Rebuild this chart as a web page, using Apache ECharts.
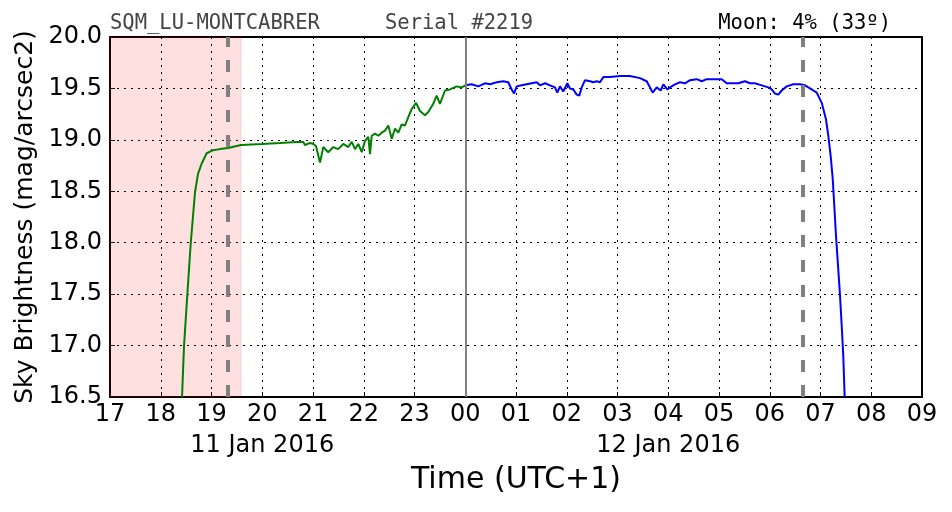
<!DOCTYPE html>
<html><head><meta charset="utf-8">
<script src="https://cdn.jsdelivr.net/npm/echarts@6/dist/echarts.min.js"></script>
<style>html,body{margin:0;padding:0;background:#fff}#c{width:952px;height:512px}</style>
</head><body><div id="c"></div>
<script>
// hours since 11 Jan 2016 17:00 (UTC+1)
const greenT = [1.419,1.458,1.523,1.590,1.675,1.734,1.807,1.905,2.030,2.167,2.325,2.581,2.995,3.350,3.679,3.809,3.842,3.941,4.006,4.059,4.138,4.203,4.301,4.400,4.498,4.597,4.696,4.763,4.828,4.893,4.960,5.025,5.090,5.123,5.157,5.222,5.287,5.354,5.419,5.484,5.551,5.616,5.681,5.748,5.813,5.878,5.945,6.030,6.108,6.207,6.272,6.370,6.437,6.502,6.601,6.700,6.832,6.930,7.000];
const greenV = [16.50,16.99,17.49,17.99,18.49,18.67,18.77,18.87,18.90,18.91,18.92,18.95,18.96,18.97,18.98,18.98,18.95,18.97,18.96,18.94,18.78,18.93,18.88,18.93,18.91,18.96,18.93,18.98,18.91,18.96,18.88,18.99,19.03,18.86,19.04,19.06,19.04,19.07,19.09,19.14,19.01,19.11,19.07,19.15,19.14,19.22,19.30,19.36,19.28,19.24,19.27,19.35,19.43,19.35,19.48,19.49,19.52,19.51,19.53];
const blueT = [7.000,7.127,7.257,7.389,7.488,7.620,7.750,7.848,7.915,7.961,8.014,8.112,8.211,8.309,8.408,8.473,8.571,8.670,8.768,8.814,8.867,8.932,9.011,9.064,9.129,9.196,9.247,9.295,9.360,9.458,9.523,9.590,9.655,9.720,9.852,10.049,10.246,10.443,10.575,10.640,10.694,10.772,10.851,10.903,10.981,11.034,11.133,11.232,11.330,11.429,11.561,11.660,11.758,11.955,12.054,12.152,12.282,12.380,12.512,12.611,12.709,12.841,12.971,13.038,13.103,13.168,13.236,13.334,13.464,13.596,13.695,13.793,13.925,14.024,14.108,14.154,14.201,14.241,14.272,14.305,14.345,14.384,14.418,14.449,14.476];
const blueV = [19.53,19.54,19.52,19.55,19.54,19.56,19.57,19.56,19.49,19.45,19.52,19.53,19.54,19.55,19.56,19.53,19.55,19.53,19.51,19.46,19.52,19.47,19.55,19.50,19.49,19.44,19.43,19.51,19.58,19.57,19.56,19.57,19.56,19.61,19.61,19.62,19.62,19.60,19.57,19.51,19.46,19.51,19.48,19.54,19.49,19.51,19.54,19.56,19.55,19.58,19.59,19.57,19.59,19.59,19.59,19.55,19.55,19.55,19.57,19.55,19.55,19.53,19.51,19.49,19.45,19.44,19.48,19.52,19.54,19.54,19.53,19.50,19.46,19.36,19.20,19.04,18.84,18.62,18.36,18.07,17.78,17.49,17.19,16.90,16.50];
const startHour = 17;
const dateLabels = {3: '11 Jan 2016', 11: '12 Jan 2016'};
const twilightLines = [2.32, 13.65];   // dashed markers
const midnight = 7;
const nightBand = [0, 2.58];
const titleLeft = 'SQM_LU-MONTCABRER';
const titleMid = 'Serial #2219';
const titleRight = 'Moon: 4% (33º)';

const zip = (a,b) => a.map((t,i)=>[t,b[i]]);
const chart = echarts.init(document.getElementById('c'));
const font = 'DejaVu Sans';
const mono = 'DejaVu Sans Mono';
const hourFmt = v => String((startHour + Math.round(v)) % 24).padStart(2,'0');
const tStyle = c => ({fontFamily:mono,fontSize:20.5,fontWeight:'normal',color:c});
chart.setOption({
  animation:false,
  textStyle:{fontFamily:font},
  title:[
    {text:titleLeft,left:105,top:8,textStyle:tStyle('#444')},
    {text:titleMid,left:380,top:8,textStyle:tStyle('#444')},
    {text:titleRight,right:56,top:8,textStyle:tStyle('#000')}
  ],
  grid:{left:110,right:30,top:37,bottom:115,show:true,borderColor:'#000',borderWidth:2,backgroundColor:'transparent'},
  xAxis:[{
    type:'value',min:0,max:16,interval:1,
    name:'Time (UTC+1)',nameLocation:'middle',nameGap:68,
    nameTextStyle:{fontSize:30,color:'#000',fontFamily:font},
    axisLine:{show:false},
    axisTick:{show:true,inside:true,length:5,lineStyle:{color:'#000'}},
    axisLabel:{formatter:hourFmt,fontSize:24,color:'#000',margin:6,fontFamily:font},
    splitLine:{show:true,lineStyle:{color:'#000',type:[2,5],width:1}}
  },{
    type:'value',min:0,max:16,interval:1,position:'bottom',offset:31,
    axisLine:{show:false},axisTick:{show:false},splitLine:{show:false},
    axisLabel:{formatter:v=>dateLabels[Math.round(v)]||'',fontSize:24,color:'#000',margin:6,fontFamily:font,showMinLabel:true,showMaxLabel:true}
  }],
  yAxis:{
    type:'value',min:16.5,max:20,interval:0.5,
    name:'Sky Brightness (mag/arcsec2)',nameLocation:'middle',nameGap:72,
    nameTextStyle:{fontSize:25,color:'#000',fontFamily:font},
    axisLine:{show:false},
    axisTick:{show:true,inside:true,length:5,lineStyle:{color:'#000'}},
    axisLabel:{formatter:v=>v.toFixed(1),fontSize:24,color:'#000',margin:8,fontFamily:font},
    splitLine:{show:true,lineStyle:{color:'#000',type:[2,5],width:1}}
  },
  series:[
    {type:'line',data:zip(greenT,greenV),showSymbol:false,lineStyle:{color:'#008000',width:2},clip:true,z:3,
     markArea:{silent:true,itemStyle:{color:'rgba(255,0,0,0.12)',borderColor:'rgba(255,0,0,0.15)',borderWidth:1},data:[[{xAxis:nightBand[0]},{xAxis:nightBand[1]}]]},
     markLine:{silent:true,symbol:'none',label:{show:false},
       data:[{xAxis:midnight,lineStyle:{color:'#808080',width:2,type:'solid'}}].concat(
         twilightLines.map(t=>({xAxis:t,lineStyle:{color:'#808080',width:4,type:[12,13]}})))}
    },
    {type:'line',data:zip(blueT,blueV),showSymbol:false,lineStyle:{color:'#0000ff',width:2},clip:true,z:3}
  ]
});
</script></body></html>
